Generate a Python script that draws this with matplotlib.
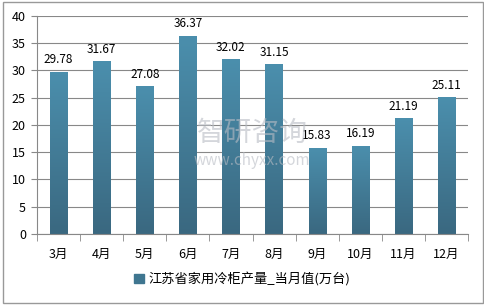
import matplotlib.pyplot as plt
import numpy as np
from matplotlib.colors import LinearSegmentedColormap
from matplotlib.patches import Rectangle

plt.rcParams['font.family'] = ['Noto Sans CJK SC', 'DejaVu Sans']

months = ['3月', '4月', '5月', '6月', '7月', '8月', '9月', '10月', '11月', '12月']
values = [29.78, 31.67, 27.08, 36.37, 32.02, 31.15, 15.83, 16.19, 21.19, 25.11]
legend_label = '江苏省家用冷柜产量_当月值(万台)'

fig = plt.figure(figsize=(4.85, 3.05), dpi=100)
ax = fig.add_axes([0.0763, 0.233, 0.8887, 0.7145])

x = np.arange(len(months))
bw = 0.4
bars = ax.bar(x, values, width=bw, color='#4a8aa5', zorder=2, label=legend_label)

# vertical gradient on each bar
cmap = LinearSegmentedColormap.from_list('g', ['#3a6880', '#4b8fad'])
grad = np.linspace(0, 1, 256).reshape(-1, 1)
for b in bars:
    bx, by = b.get_x(), b.get_y()
    w, h = b.get_width(), b.get_height()
    im = ax.imshow(grad, cmap=cmap, aspect='auto', origin='lower',
                   extent=[bx, bx + w, by, by + h], zorder=2)
    im.set_clip_path(b)
    b.set_alpha(0)

for xi, v in zip(x, values):
    ax.text(xi, v + 1.0, f'{v:.2f}', ha='center', va='bottom', fontsize=8.5, color='black', zorder=3)

ax.set_xlim(-0.5, len(months) - 0.5)
ax.set_ylim(0, 40)
ax.set_yticks(np.arange(0, 41, 5))
ax.yaxis.grid(True, color='#888888', linewidth=0.8, zorder=0)
ax.set_axisbelow(True)
ax.tick_params(axis='y', length=4, color='#888888', labelsize=9, pad=4)

ax.set_xticks(x)
ax.set_xticklabels(months, fontsize=9)
ax.tick_params(axis='x', length=0, pad=10)
ax.set_xticks(np.arange(-0.5, len(months), 1), minor=True)
ax.tick_params(axis='x', which='minor', length=5, color='#888888')

for s in ['top', 'right']:
    ax.spines[s].set_visible(False)
for s in ['left', 'bottom']:
    ax.spines[s].set_color('#888888')

handle = Rectangle((0, 0), 1, 1, color='#3f7690')
fig.legend([handle], [legend_label], loc='center', bbox_to_anchor=(0.5, 0.085),
           frameon=False, fontsize=9.5, handlelength=0.7, handleheight=0.7, handletextpad=0.4)

# watermark
fig.text(0.52, 0.565, '智研咨询', fontsize=20, color='#b8bcc4', alpha=0.6, ha='center', va='center')
fig.text(0.52, 0.475, 'www.chyxx.com', fontsize=11, color='#b8bcc4', alpha=0.6, ha='center', va='center')

fig.add_artist(Rectangle((0.006, 0.008), 0.99, 0.985, transform=fig.transFigure,
                         fill=False, edgecolor='#999999', linewidth=1))

fig.savefig('out.png', dpi=100)
